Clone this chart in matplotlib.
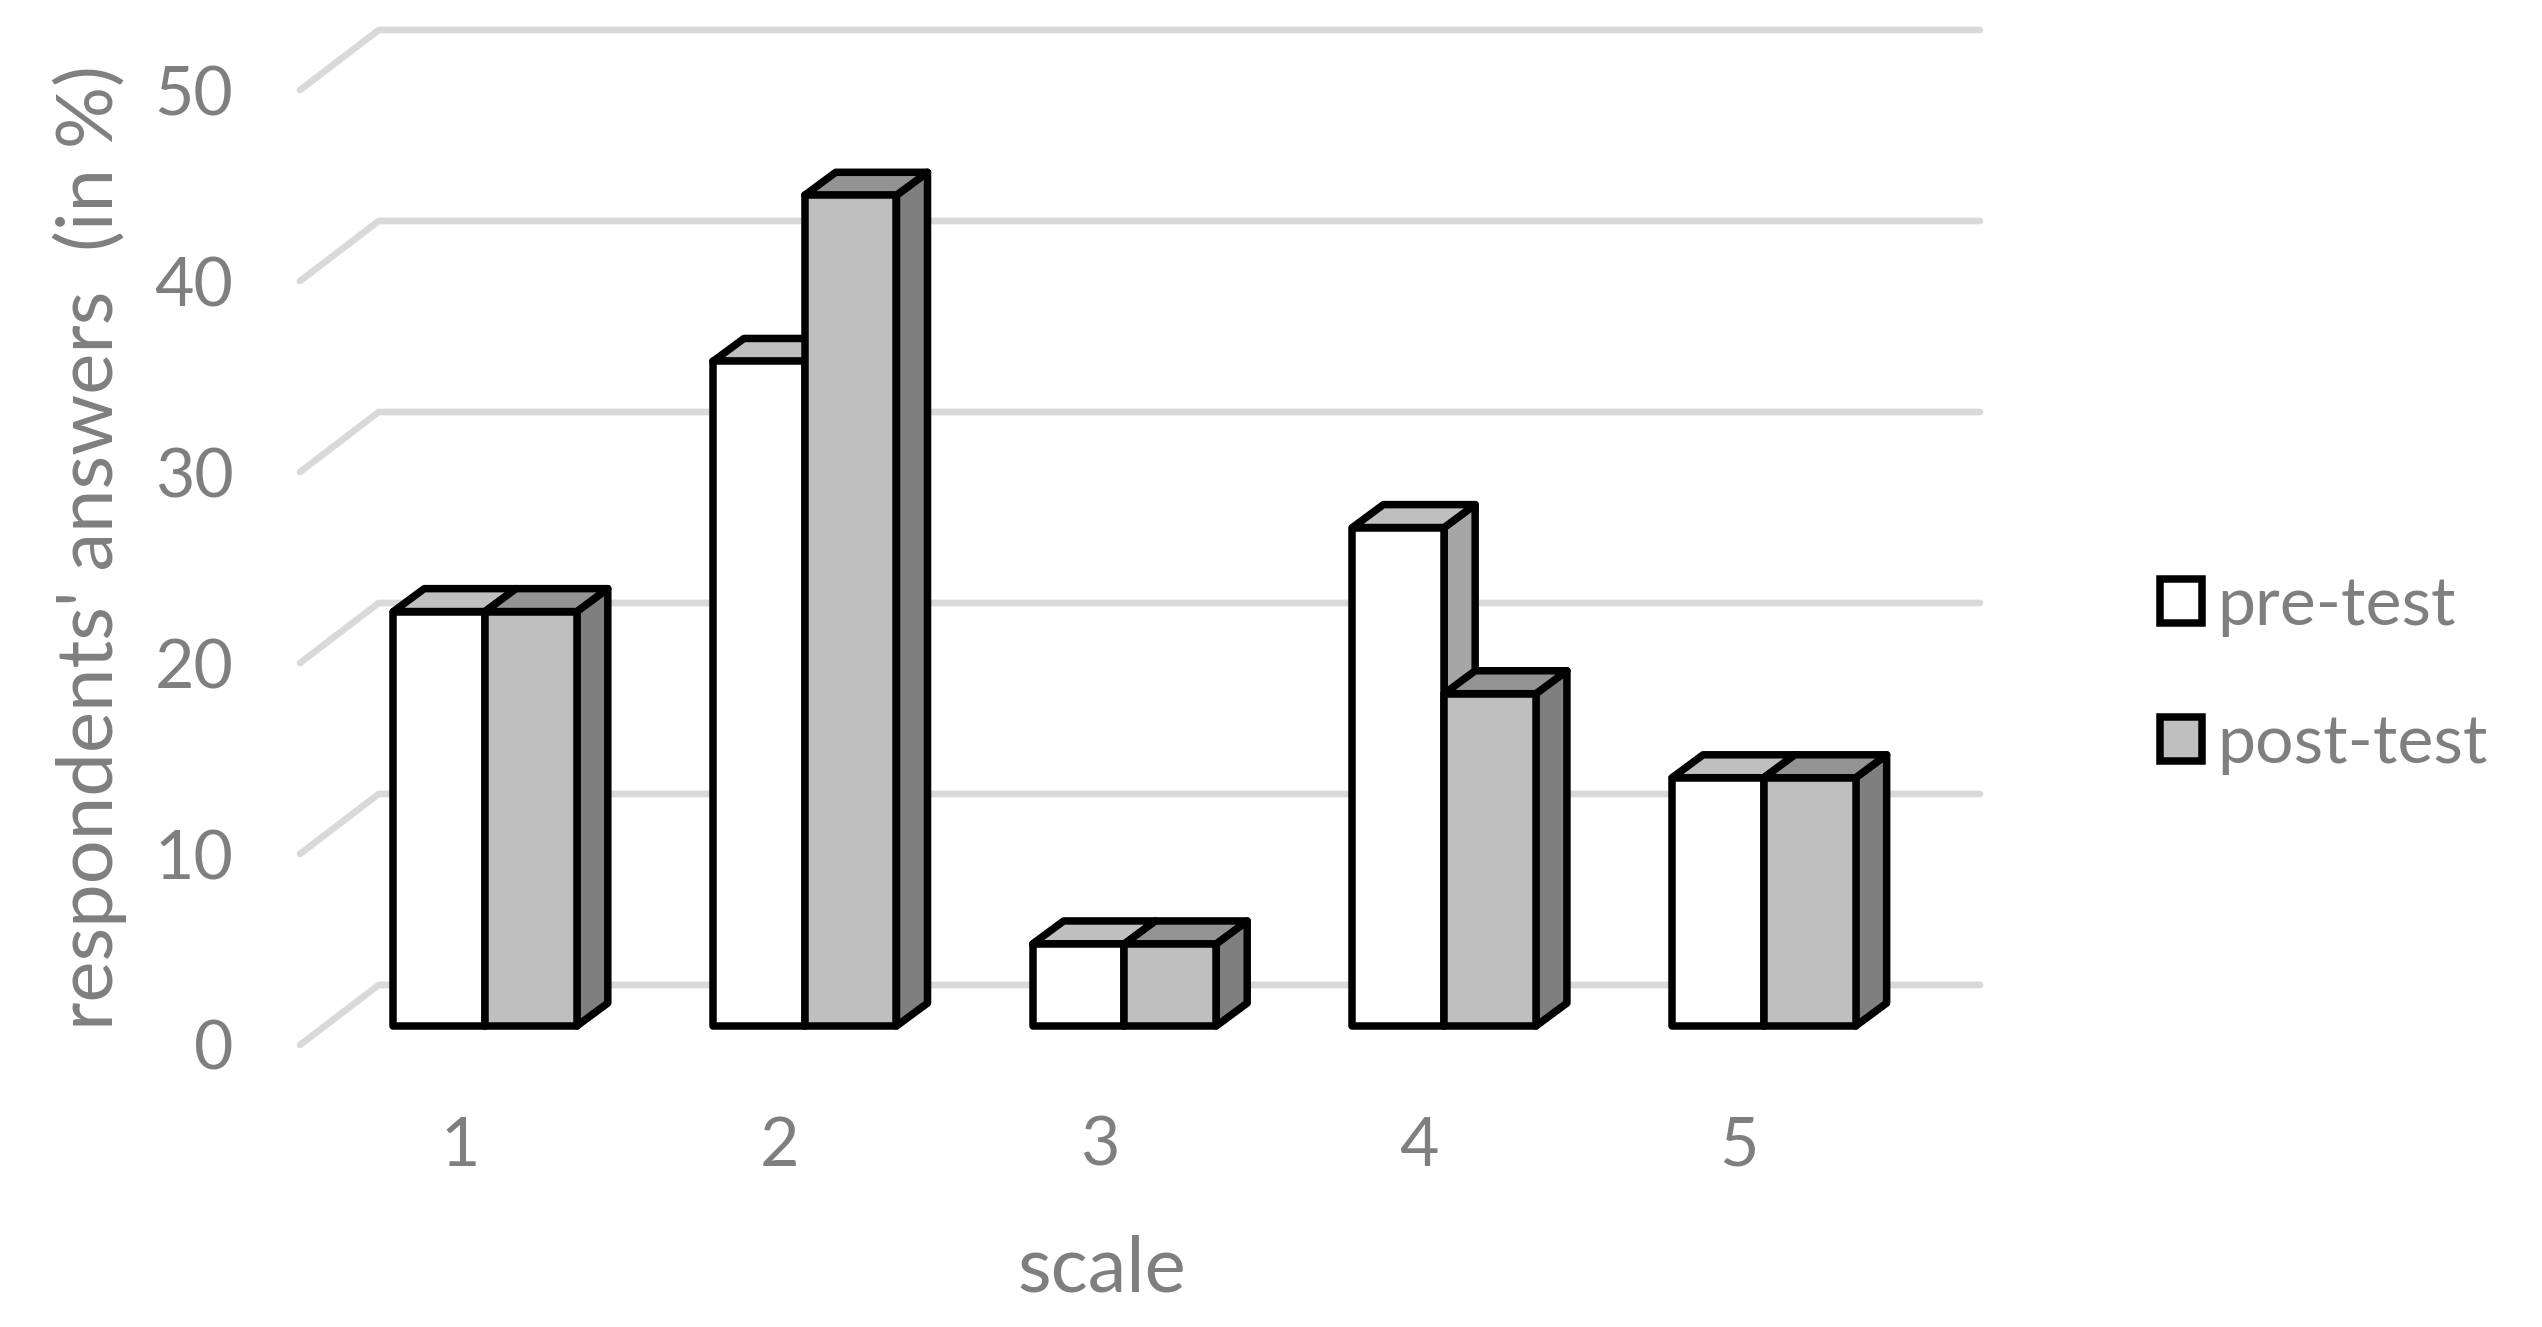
import matplotlib
matplotlib.use('Agg')
import matplotlib.pyplot as plt
from matplotlib.patches import Polygon, Patch
import numpy as np

plt.rcParams['font.family'] = ['Lato', 'DejaVu Sans']

#data
categories = ['1', '2', '3', '4', '5']
pre_test = [21.7, 34.8, 4.3, 26.1, 13.0]
post_test = [21.7, 43.5, 4.3, 17.4, 13.0]
y_ticks = [0, 10, 20, 30, 40, 50]

#sizes of the fake 3d look (in data units)
bar_w = 0.287
depth_x = 0.097
depth_y = 1.2
floor_front = -0.995
floor_back = 2.15
wall_x = 0.665
label_shift = 0.078

text_col = '#7f7f7f'
grid_col = '#d9d9d9'

fig = plt.figure(figsize=(25.42, 13.27), dpi=100)
ax = fig.add_axes([300/2542, 1-1045/1327, 1680/2542, 1015/1327])
ax.set_xlim(0.4213, 5.676)
ax.set_ylim(floor_front, 52.15)
for s in ax.spines.values():
	s.set_visible(False)
ax.patch.set_visible(False)

#gridlines with the slanted part on the left
x0, x1 = ax.get_xlim()
for v in y_ticks:
	ax.plot([x0, x0+wall_x*0.37, x1], [v+floor_front, v+floor_back, v+floor_back],
		color=grid_col, lw=4.8, solid_capstyle='round', solid_joinstyle='round', zorder=1, clip_on=False)

def bar3d(x, h, front, top, side, z):
	lw = 5.4
	#side face, top face, front face
	ax.add_patch(Polygon([(x+bar_w, 0), (x+bar_w+depth_x, depth_y), (x+bar_w+depth_x, h+depth_y), (x+bar_w, h)],
		fc=side, ec='black', lw=lw, joinstyle='round', zorder=z))
	ax.add_patch(Polygon([(x, h), (x+depth_x, h+depth_y), (x+bar_w+depth_x, h+depth_y), (x+bar_w, h)],
		fc=top, ec='black', lw=lw, joinstyle='round', zorder=z))
	ax.add_patch(Polygon([(x, 0), (x+bar_w, 0), (x+bar_w, h), (x, h)],
		fc=front, ec='black', lw=lw, joinstyle='round', zorder=z+0.1))

xs = np.arange(1, len(categories)+1)
for i in range(len(categories)):
	bar3d(xs[i]-bar_w, pre_test[i], '#ffffff', '#bfbfbf', '#a6a6a6', 3)
	bar3d(xs[i], post_test[i], '#bfbfbf', '#939393', '#7f7f7f', 4)

#ticks
ax.set_xticks(xs-label_shift)
ax.set_xticklabels(categories)
ax.set_yticks(np.array(y_ticks)+floor_front)
ax.set_yticklabels([str(v) for v in y_ticks])
ax.tick_params(axis='x', length=0, pad=51, labelsize=49, labelcolor=text_col)
ax.tick_params(axis='y', length=0, pad=48, labelsize=49, labelcolor=text_col)

#axis titles
ax.set_xlabel('scale', fontsize=56, color=text_col, va='center')
ax.xaxis.set_label_coords(0.477, -0.222)
ax.set_ylabel("respondents' answers  (in %)", fontsize=56, color=text_col, va='center')
ax.yaxis.set_label_coords(-0.125, 0.49)

#legend
handles = [Patch(fc='#ffffff', ec='black', lw=5.4, label='pre-test'),
	Patch(fc='#bfbfbf', ec='black', lw=5.4, label='post-test')]
fig.legend(handles=handles, loc='center left', bbox_to_anchor=(2160/2542, 1-675/1327), frameon=False,
	fontsize=49, labelcolor=text_col, handlelength=0.62, handleheight=0.62, handletextpad=0.22,
	labelspacing=1.12, borderpad=0, borderaxespad=0)

fig.savefig('out.png', dpi=100)
